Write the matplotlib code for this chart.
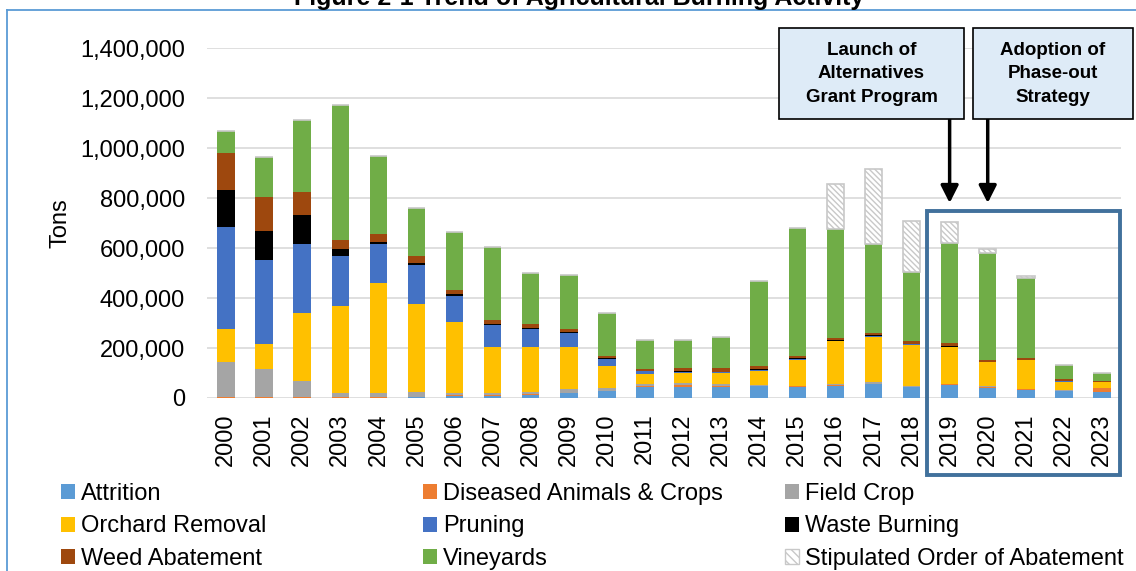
import matplotlib
matplotlib.use("Agg")
import matplotlib.pyplot as plt
import numpy as np
from matplotlib.patches import Patch, Rectangle
from matplotlib.lines import Line2D
from matplotlib.ticker import FuncFormatter
import matplotlib.transforms as mtransforms

plt.rcParams['font.family'] = ['Liberation Sans', 'DejaVu Sans']
plt.rcParams['hatch.linewidth'] = 1.0

years = [str(y) for y in range(2000, 2024)]

attrition = [2000, 2000, 2000, 2000, 2000, 3000, 10000, 9000, 14000, 19000, 27000, 46000,
             45000, 46000, 47000, 44000, 48000, 55000, 44000, 52000, 42000, 34000, 27000, 24000]
diseased = [3000, 3000, 3000, 2000, 2000, 3000, 2000, 3000, 2000, 2000, 2000, 2000,
            6700, 2000, 2000, 2500, 2700, 2300, 2000, 2300, 2000, 1500, 2000, 14700]
field_crop = [139000, 111000, 63000, 15000, 15000, 18000, 9300, 8000, 9300, 13400, 12000, 9300,
              6700, 6700, 2700, 2600, 4000, 5400, 3300, 3000, 2500, 1500, 1500, 1000]
orchard = [131000, 101300, 270700, 348000, 441300, 353300, 282700, 184000, 178700, 169300, 85400, 40000,
           41300, 44000, 57300, 104000, 172000, 182600, 161400, 145400, 96000, 113400, 35300, 22700]
pruning = [408000, 336000, 278600, 200000, 154700, 156000, 105300, 90000, 70700, 57300, 29300, 9400,
           5300, 4000, 4000, 2700, 2600, 2700, 4000, 2600, 1500, 1300, 1000, 1000]
waste = [148000, 114700, 114700, 28000, 9300, 8000, 5400, 2000, 4000, 4000, 4000, 2600,
         4000, 2600, 2700, 2700, 2700, 2700, 2600, 2700, 1500, 1300, 1000, 1000]
weed = [150000, 136000, 93300, 37300, 32000, 26700, 18600, 16700, 18600, 12000, 9300, 8000,
        12000, 14700, 12000, 9300, 8000, 8000, 10700, 10700, 7000, 8000, 6700, 5300]
vineyards = [88000, 158700, 286700, 538700, 313400, 193300, 229400, 292000, 204000, 214700, 172000, 113400,
             110700, 122700, 341300, 510700, 436000, 357300, 274700, 400000, 429300, 320000, 56000, 30700]
stipulated = [0, 0, 0, 0, 0, 0, 0, 0, 0, 0, 0, 0,
              0, 0, 0, 0, 178700, 298700, 205300, 86600, 16000, 6600, 0, 0]

series = [
    ("Attrition", attrition, "#5B9BD5"),
    ("Diseased Animals & Crops", diseased, "#ED7D31"),
    ("Field Crop", field_crop, "#A5A5A5"),
    ("Orchard Removal", orchard, "#FFC000"),
    ("Pruning", pruning, "#4472C4"),
    ("Waste Burning", waste, "#000000"),
    ("Weed Abatement", weed, "#9E480E"),
    ("Vineyards", vineyards, "#70AD47"),
]

W, H = 1136, 571
fig = plt.figure(figsize=(W / 100, H / 100), dpi=100)
ax = fig.add_axes([207 / W, 1 - 398 / H, (1121 - 207) / W, 350 / H])

x = np.arange(len(years))
bottom = np.zeros(len(years))
handles = {}
for name, vals, col in series:
    ax.bar(x, vals, 0.46, bottom=bottom, color=col, zorder=3)
    bottom += np.array(vals)
    handles[name] = Patch(facecolor=col)
ax.bar(x, stipulated, 0.46, bottom=bottom, facecolor="white", edgecolor="#C8C8C8",
       hatch="\\\\\\\\\\\\", linewidth=1.2, zorder=3)
handles["Stipulated Order of Abatement"] = Patch(facecolor="white", edgecolor="#C8C8C8",
                                                 hatch="\\\\\\\\", linewidth=1.0)

ax.set_xlim(-0.5, len(years) - 0.5)
ax.set_ylim(0, 1400000)
ax.set_yticks(np.arange(0, 1400001, 200000))
ax.yaxis.set_major_formatter(FuncFormatter(lambda v, p: f"{int(v):,}"))
ax.set_xticks(x)
ax.set_xticklabels(years, rotation=90)
ax.tick_params(axis="y", length=0, pad=16, labelsize=17)
ax.tick_params(axis="x", length=0, pad=11, labelsize=17)
ax.grid(axis="y", color="#D9D9D9", linewidth=1.2, zorder=0)
for s in ax.spines.values():
    s.set_visible(False)
ax.set_ylabel("Tons", fontsize=17)
ax.yaxis.set_label_coords(-0.148, 0.5)

# highlight box around 2019-2023
trans = mtransforms.blended_transform_factory(ax.transData, ax.transAxes)
ax.add_patch(Rectangle((18.40, -0.22), 5.08, 0.754, transform=trans, fill=False,
                       edgecolor="#41719C", linewidth=2.8, clip_on=False, zorder=5))

# callout boxes
def callout(x0, x1, text):
    fig.add_artist(Rectangle((x0 / W, 1 - 119 / H), (x1 - x0) / W, 91 / H,
                             transform=fig.transFigure, facecolor="#DEEBF7",
                             edgecolor="black", linewidth=1.2))
    fig.text((x0 + x1) / 2 / W, 1 - 74 / H, text, ha="center", va="center",
             fontsize=13.5, fontweight="bold", linespacing=1.5)

callout(779, 964, "Launch of\nAlternatives\nGrant Program")
callout(973, 1133, "Adoption of\nPhase-out\nStrategy")

for idx in (19, 20):
    ax.annotate("", xy=(idx, 780000), xytext=(idx, 1116000),
                arrowprops=dict(arrowstyle="-|>,head_length=0.75,head_width=0.38",
                                color="black", lw=2.5, mutation_scale=14,
                                shrinkA=0, shrinkB=0), zorder=6)

# legend: three equal columns
cols = [["Attrition", "Orchard Removal", "Weed Abatement"],
        ["Diseased Animals & Crops", "Pruning", "Vineyards"],
        ["Field Crop", "Waste Burning", "Stipulated Order of Abatement"]]
for i, names in enumerate(cols):
    fig.legend([handles[n] for n in names], names, loc="upper left",
               bbox_to_anchor=((61 + 362 * i) / W, 1 - 483 / H),
               frameon=False, fontsize=17, handlelength=0.6, handleheight=0.6,
               handletextpad=0.25, labelspacing=0.44, borderpad=0, borderaxespad=0)

fig.text(0.51, 1 - 5 / H, "Figure 2-1 Trend of Agricultural Burning Activity",
         ha="center", va="baseline", fontsize=18, fontweight="bold")

# partial frame around figure
fig.add_artist(Line2D([7 / W, 7 / W], [0, 1 - 10 / H], transform=fig.transFigure,
                      color="#5B9BD5", linewidth=1.3))
fig.add_artist(Line2D([7 / W, 1], [1 - 10 / H, 1 - 10 / H], transform=fig.transFigure,
                      color="#5B9BD5", linewidth=1.3))

fig.savefig("out.png", dpi=100)
